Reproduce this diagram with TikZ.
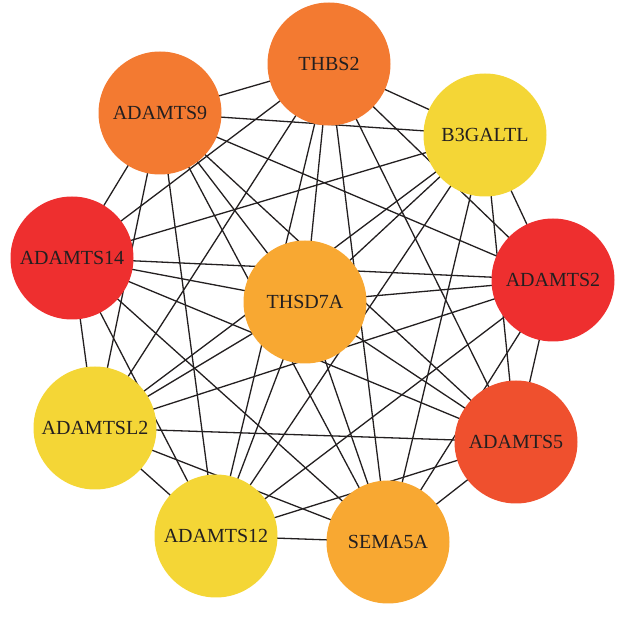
\documentclass[tikz,border=0pt]{standalone}
\usepackage{fontspec}
\setmainfont{Liberation Serif}
\usetikzlibrary{backgrounds}
\definecolor{txt}{HTML}{231F20}
\definecolor{corange}{HTML}{F37A31}
\definecolor{cyellow}{HTML}{F4D636}
\definecolor{cred}{HTML}{EE2F2F}
\definecolor{clight}{HTML}{F8A832}
\definecolor{cred2}{HTML}{EF502E}
\begin{document}
\begin{tikzpicture}[x=1pt,y=-1pt,
  gene/.style={circle, minimum size=123pt, inner sep=0pt, outer sep=0pt, draw=none,
    font=\fontsize{20}{20}\selectfont, text=txt},
  link/.style={draw=txt, line width=1.3pt}]
\useasboundingbox (0,0) rectangle (625,620);
\node[gene, fill=corange] (t2)  at (329,64)  {THBS2};
\node[gene, fill=corange] (a9)  at (160,113) {ADAMTS9};
\node[gene, fill=cyellow] (b3)  at (485,135) {B3GALTL};
\node[gene, fill=cred]    (a14) at (72,258)  {ADAMTS14};
\node[gene, fill=clight]  (th)  at (305,302) {THSD7A};
\node[gene, fill=cred]    (a2)  at (553,280) {ADAMTS2};
\node[gene, fill=cyellow] (l2)  at (95,428)  {ADAMTSL2};
\node[gene, fill=cyellow] (a12) at (216,536) {ADAMTS12};
\node[gene, fill=cred2]   (a5)  at (516,442) {ADAMTS5};
\node[gene, fill=clight]  (s5)  at (388,542) {SEMA5A};
\node[font=\fontsize{12}{12}\selectfont, text=txt!70] (cap) at (312,627) {(b)};
\begin{scope}[on background layer]
\foreach \a/\b in {t2/a9, t2/b3, t2/a14, t2/th, t2/a2, t2/l2, t2/a12, t2/a5, t2/s5,
  a9/b3, a9/a14, a9/th, a9/a2, a9/l2, a9/a12, a9/a5, a9/s5,
  b3/a14, b3/th, b3/a2, b3/l2, b3/a12, b3/a5, b3/s5,
  a14/th, a14/a2, a14/l2, a14/a12, a14/a5, a14/s5,
  th/a2, th/l2, th/a12, th/a5, th/s5,
  a2/l2, a2/a12, a2/a5, a2/s5,
  l2/a12, l2/a5, l2/s5,
  a12/a5, a12/s5,
  a5/s5}
  \draw[link] (\a.center) -- (\b.center);
\end{scope}
\end{tikzpicture}
\end{document}
